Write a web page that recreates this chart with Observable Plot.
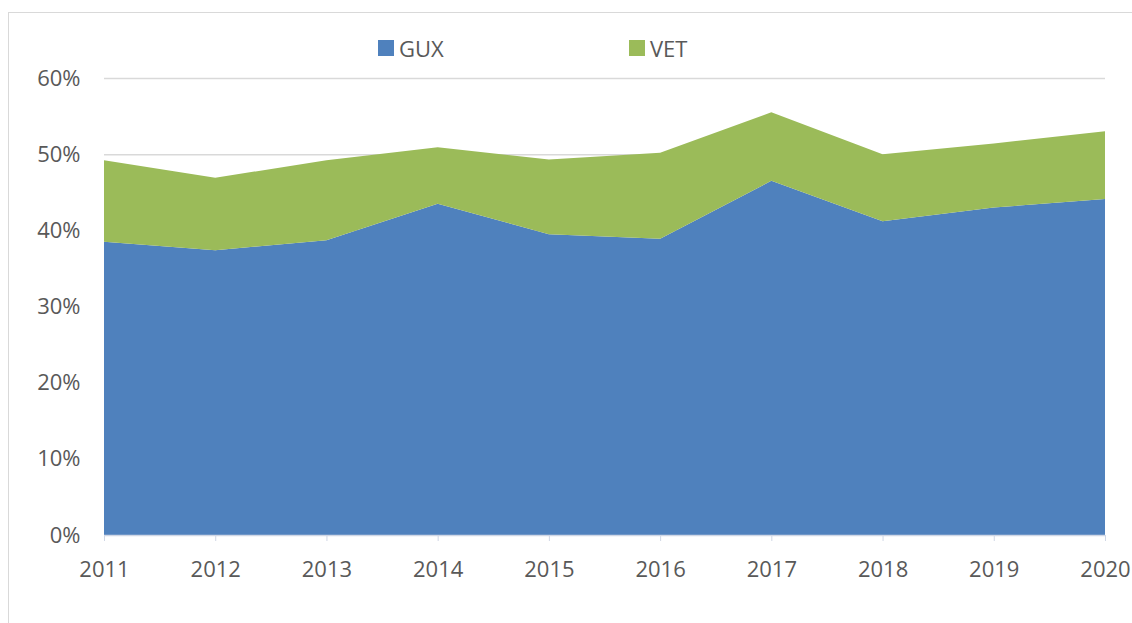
<!DOCTYPE html>
<html>
<head>
<meta charset="utf-8">
<script src="https://cdn.jsdelivr.net/npm/d3@7"></script>
<script src="https://cdn.jsdelivr.net/npm/@observablehq/plot@0.6"></script>
<style>
  html, body { margin: 0; padding: 0; background: #fff; overflow: hidden; }
  #wrap { position: relative; width: 1132px; height: 623px; font-family: "Open Sans", sans-serif; }
  #frame { position: absolute; left: 8px; top: 12px; width: 1200px; height: 700px; border: 1px solid #d9d9d9; box-sizing: border-box; }
  #chart { position: absolute; left: 0; top: 0; }
  .leg { position: absolute; top: 33px; font-size: 22px; color: #595959; line-height: 30px; display: flex; align-items: center; }
  .sw { width: 16px; height: 16px; margin-right: 5px; display: inline-block; }
</style>
</head>
<body>
<div id="wrap">
  <div id="frame"></div>
  <div id="chart"></div>
  <div id="legend"></div>
</div>
<script>
const years = [2011, 2012, 2013, 2014, 2015, 2016, 2017, 2018, 2019, 2020];
const seriesNames = ["GUX", "VET"];
const gux = [38.5, 37.4, 38.7, 43.5, 39.5, 38.9, 46.5, 41.2, 43.0, 44.1];
const vet = [10.7, 9.5, 10.5, 7.4, 9.8, 11.3, 9.0, 8.8, 8.4, 8.9];
const colors = ["#4f81bd", "#9bbb59"];
const yTicks = [0, 10, 20, 30, 40, 50, 60];

const data = [];
years.forEach((y, i) => {
  data.push({year: y, series: "GUX", value: gux[i]});
  data.push({year: y, series: "VET", value: vet[i]});
});

const chart = Plot.plot({
  width: 1132,
  height: 623,
  marginLeft: 104,
  marginRight: 27,
  marginTop: 78,
  marginBottom: 88,
  style: {fontFamily: "'Open Sans', sans-serif", fontSize: "22px", color: "#595959", background: "transparent"},
  x: {type: "linear", domain: [2011, 2020]},
  y: {domain: [0, 60]},
  color: {domain: seriesNames, range: colors},
  marks: [
    Plot.gridY(yTicks.slice(1), {stroke: "#d9d9d9", strokeOpacity: 1, strokeWidth: 1.5}),
    Plot.areaY(data, {x: "year", y: "value", fill: "series", order: seriesNames, curve: "linear"}),
    Plot.axisY(yTicks, {tickSize: 0, tickPadding: 24, tickFormat: d => d + "%", fill: "#595959", label: null}),
    Plot.ruleY([0], {stroke: "#d0d7e5", strokeWidth: 1.5}),
    Plot.axisX(years, {tickSize: 6, tickPadding: 20, tickFormat: d => String(d), stroke: "#d0d7e5", fill: "#595959", label: null})
  ]
});
document.getElementById("chart").appendChild(chart);

const legend = document.getElementById("legend");
const legLeft = [378, 629];
seriesNames.forEach((name, i) => {
  const item = document.createElement("div");
  item.className = "leg";
  item.style.left = legLeft[i] + "px";
  const sw = document.createElement("span");
  sw.className = "sw";
  sw.style.background = colors[i];
  item.appendChild(sw);
  item.appendChild(document.createTextNode(name));
  legend.appendChild(item);
});
</script>
</body>
</html>
